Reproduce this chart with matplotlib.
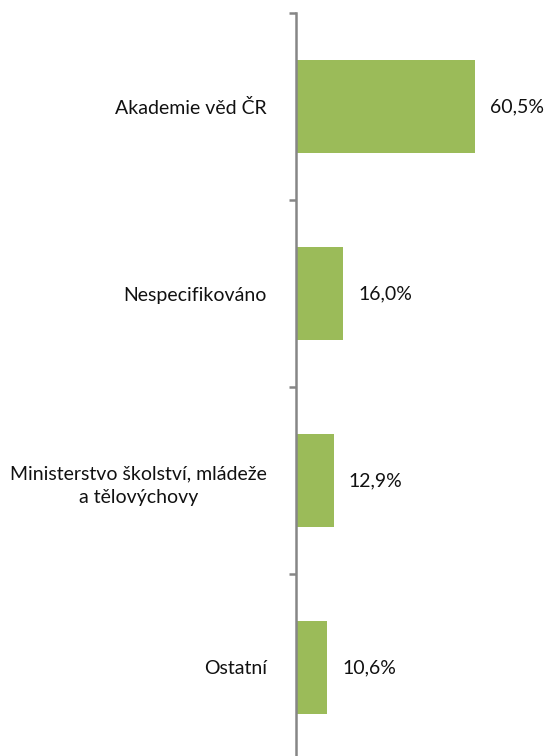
import numpy as np
import matplotlib.pyplot as plt
from matplotlib.ticker import FixedLocator

categories = ["Akademie věd ČR", "Nespecifikováno",
              "Ministerstvo školství, mládeže\na tělovýchovy", "Ostatní"]
values = [60.5, 16.0, 12.9, 10.6]
value_labels = ["60,5%", "16,0%", "12,9%", "10,6%"]

plt.rcParams['font.family'] = ['Lato', 'DejaVu Sans']

fig = plt.figure(figsize=(5.49, 7.56), dpi=100)
W, H = 549, 756
ax = fig.add_axes([296 / W, -5 / H, 207 / W, 748 / H])

y = np.arange(len(categories))
ax.barh(y, values, height=0.5, color='#9BBB59')
ax.set_xlim(0, 70)
ax.set_ylim(len(categories) - 0.5, -0.5)

for yi, v, lab in zip(y, values, value_labels):
    ax.text(v + 5.0, yi, lab, va='center', ha='left', fontsize=14, color='#111111')

for s in ['top', 'right', 'bottom']:
    ax.spines[s].set_visible(False)
ax.spines['left'].set_color('#868686')
ax.spines['left'].set_linewidth(1.8)
ax.set_xticks([])

ax.set_yticks(y)
ax.set_yticklabels(categories, fontsize=14, color='#111111',
                   multialignment='center', linespacing=1.5)
ax.tick_params(axis='y', which='major', length=0, pad=21)
ax.yaxis.set_minor_locator(FixedLocator(np.arange(-0.5, len(categories), 1.0)))
ax.tick_params(axis='y', which='minor', length=5, width=1.8, color='#868686')

fig.savefig('out.png', dpi=100)
